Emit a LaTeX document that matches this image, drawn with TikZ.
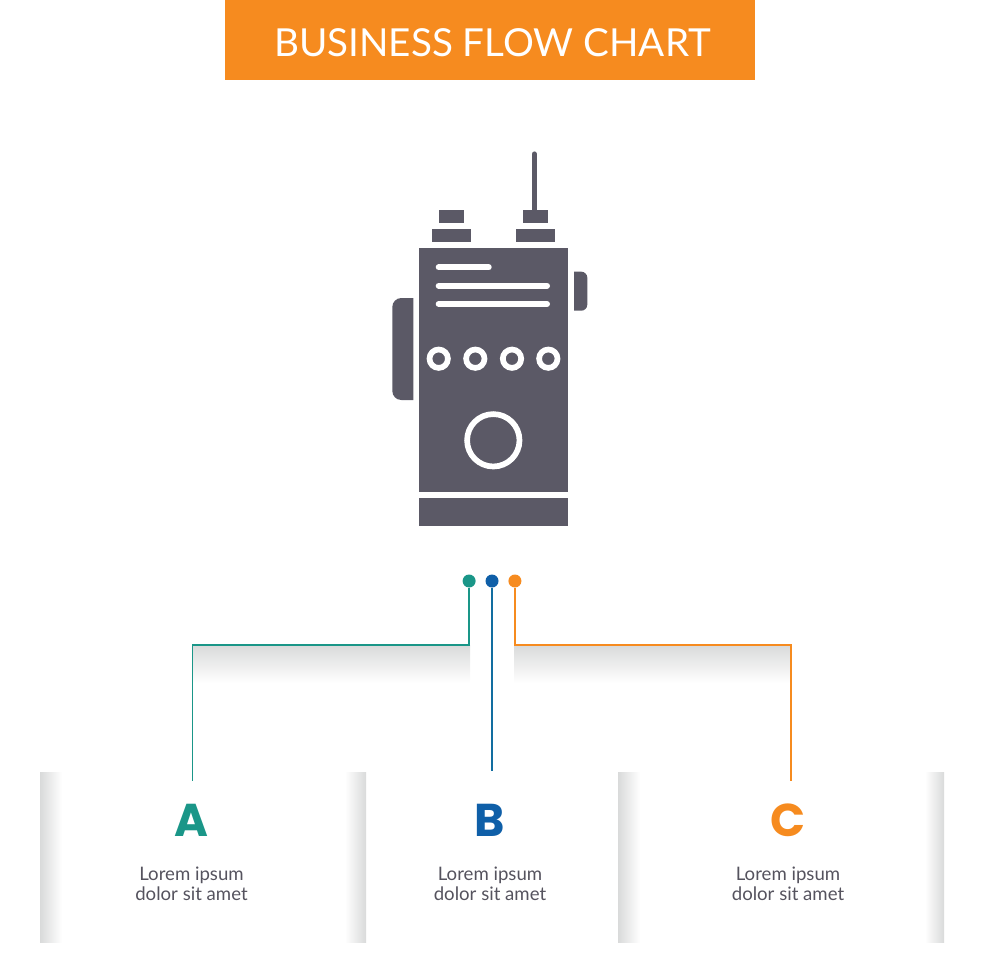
\documentclass[tikz,border=0pt]{standalone}
\usepackage{fontspec}
\setmainfont{Lato}
\newfontfamily\letterfont{Poppins}
\usetikzlibrary{positioning}
\definecolor{barorange}{HTML}{F68B1F}
\definecolor{markteal}{HTML}{1A9688}
\definecolor{markblue}{HTML}{0F5FA8}
\definecolor{radiogrey}{HTML}{5B5966}
\definecolor{loremgrey}{HTML}{55535E}
\definecolor{shadegrey}{HTML}{D9DADA}

\begin{document}
\begin{tikzpicture}[x=1pt, y=-1pt,
                    titlenode/.style={text=white, font=\fontsize{38.6}{38.6}\selectfont},
                    dotnode/.style={circle, minimum size=13pt, inner sep=0pt},
                    letternode/.style={font=\letterfont\bfseries\fontsize{46}{46}\selectfont},
                    loremnode/.style={text=loremgrey, align=center, font=\fontsize{18.6}{20.5}\selectfont},
                    wire/.style={line width=1.3pt},
                    hole/.style={draw=white, line width=5.7pt},
                    bar/.style={white, line width=6pt, line cap=round},
                ]
                    \useasboundingbox (0,0) rectangle (980,980);

                    %Panels
                    \shade[left color=shadegrey, right color=white] (40,772) rectangle (62,942);
                    \shade[left color=white, right color=shadegrey] (345,772) rectangle (366,942);
                    \shade[left color=shadegrey, right color=white] (618,772) rectangle (640,942);
                    \shade[left color=white, right color=shadegrey] (925,772) rectangle (944,942);

                    %Shadows
                    \shade[top color=shadegrey, bottom color=white] (193,645) rectangle (470,683);
                    \shade[top color=shadegrey, bottom color=white] (514,645) rectangle (791,683);

                    %Title
                    \fill[barorange] (225,0) rectangle (755,80);
                    \node[titlenode](title) at (492.5,43) {BUSINESS FLOW CHART};

                    %Radio
                    \fill[radiogrey] (419.3,247.7) rectangle (567.7,491.7);
                    \fill[radiogrey] (419.3,498) rectangle (567.7,525.7);
                    \fill[radiogrey] (439,210) rectangle (464.3,222.7);
                    \fill[radiogrey] (432.3,229) rectangle (471,241.7);
                    \fill[radiogrey] (523,210) rectangle (548,222.7);
                    \fill[radiogrey] (516,229) rectangle (554.7,241.7);
                    \draw[radiogrey, line width=5.2pt, line cap=round] (534.3,154) -- (534.3,212);
                    \fill[radiogrey] (413.3,298) [rounded corners=9pt] -- (392.3,298) -- (392.3,400) [sharp corners] -- (413.3,400) -- cycle;
                    \fill[radiogrey] (574,271.7) [rounded corners=6pt] -- (587.3,271.7) -- (587.3,310.7) [sharp corners] -- (574,310.7) -- cycle;
                    \draw[bar] (438.7,267.3) -- (488.7,267.3);
                    \draw[bar] (438.7,285.7) -- (547,285.7);
                    \draw[bar] (438.7,304) -- (547,304);
                    \foreach \x in {438.7,475.3,512,548.3}
                        \draw[hole] (\x,358.7) circle (9.2);
                    \draw[hole] (493.3,440.3) circle (26.2);

                    %Nodes
                    \node[dotnode, fill=markblue](dotb) at (492,581) {};
                    \node[dotnode, fill=markteal](dota)[left=9.5pt of dotb] {};
                    \node[dotnode, fill=barorange](dotc)[right=9.5pt of dotb] {};
                    \node[letternode, text=markteal](lettera) at (191.5,820) {A};
                    \node[letternode, text=markblue](letterb) at (490,820) {B};
                    \node[letternode, text=barorange](letterc) at (788,820) {C};
                    \node[loremnode](lorema) at (191.5,884) {Lorem ipsum\\dolor sit amet};
                    \node[loremnode](loremb) at (490,884) {Lorem ipsum\\dolor sit amet};
                    \node[loremnode](loremc) at (788,884) {Lorem ipsum\\dolor sit amet};
                    \coordinate (cornera) at (192.5,645);
                    \coordinate (cornerc) at (791,645);
                    \coordinate (enda) at (192.5,781);
                    \coordinate (endb) at (492,771);
                    \coordinate (endc) at (791,781);

                    %Lines
                    \draw[wire, markteal](dota.south) |- (cornera) -- (enda);
                    \draw[wire, markblue!75!markteal](dotb.south) -- (endb);
                    \draw[wire, barorange](dotc.south) |- (cornerc) -- (endc);
                \end{tikzpicture}
\end{document}
